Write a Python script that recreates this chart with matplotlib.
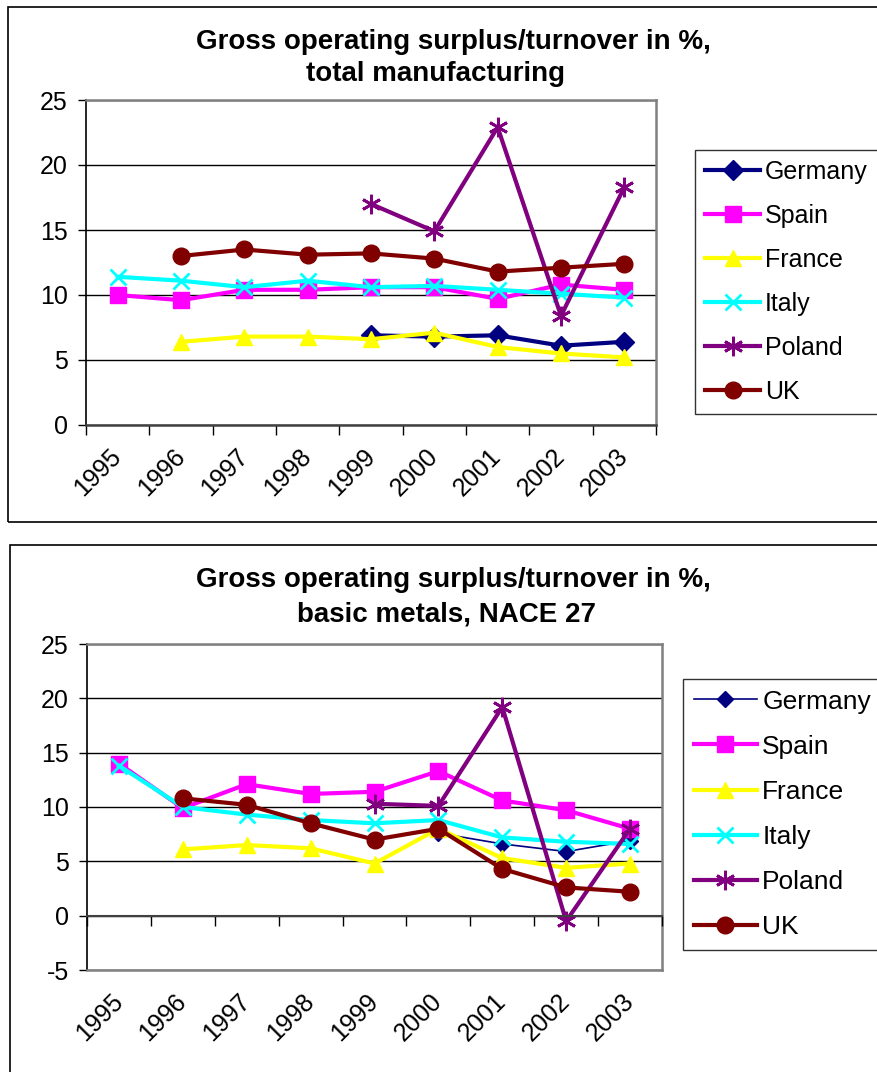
import numpy as np
import matplotlib.pyplot as plt
from matplotlib.patches import Rectangle
from matplotlib.ticker import MultipleLocator

plt.rcParams['font.family'] = ['Liberation Sans', 'DejaVu Sans']
plt.rcParams['axes.unicode_minus'] = False

nan = np.nan
years = ['1995', '1996', '1997', '1998', '1999', '2000', '2001', '2002', '2003']
countries = ['Germany', 'Spain', 'France', 'Italy', 'Poland', 'UK']

# total manufacturing
manuf_germany = [nan, nan, nan, nan, 6.9, 6.8, 6.9, 6.1, 6.4]
manuf_spain = [10.0, 9.6, 10.4, 10.4, 10.6, 10.6, 9.7, 10.8, 10.4]
manuf_france = [nan, 6.4, 6.8, 6.8, 6.6, 7.1, 6.0, 5.5, 5.2]
manuf_italy = [11.4, 11.1, 10.6, 11.1, 10.6, 10.7, 10.4, 10.1, 9.8]
manuf_poland = [nan, nan, nan, nan, 17.0, 14.9, 22.9, 8.4, 18.3]
manuf_uk = [nan, 13.0, 13.5, 13.1, 13.2, 12.8, 11.8, 12.1, 12.4]

# basic metals, NACE 27
metals_germany = [nan, nan, nan, nan, nan, 7.6, 6.6, 5.9, 6.9]
metals_spain = [14.0, 9.9, 12.1, 11.2, 11.4, 13.3, 10.6, 9.7, 8.0]
metals_france = [nan, 6.1, 6.5, 6.2, 4.8, 8.0, 5.3, 4.4, 4.8]
metals_italy = [13.8, 10.0, 9.3, 8.8, 8.5, 8.8, 7.2, 6.8, 6.6]
metals_poland = [nan, nan, nan, nan, 10.3, 10.1, 19.2, -0.5, 8.0]
metals_uk = [nan, 10.8, 10.2, 8.5, 7.0, 8.0, 4.3, 2.6, 2.2]

W, H = 877, 1072
def fx(px):
    return px / W
def fy(py):
    return 1 - py / H

colors = ['#000080', '#FF00FF', '#FFFF00', '#00FFFF', '#800080', '#800000']
markers = ['D', 's', '^', 'x', (6, 2, 0), 'o']
msizes = [10, 11, 12, 11, 14, 12]

fig = plt.figure(figsize=(W / 100, H / 100), dpi=100)

# chart frames
fig.patches.append(Rectangle((fx(8), fy(522)), fx(900) - fx(8), fy(7) - fy(522),
                             transform=fig.transFigure, fill=False, ec='black', lw=1.2))
fig.patches.append(Rectangle((fx(10), fy(1100)), fx(900) - fx(10), fy(545) - fy(1100),
                             transform=fig.transFigure, fill=False, ec='black', lw=1.2))


def draw_panel(ax, series, ymin, thin_first=False):
    x = np.arange(len(years))
    for i, (name, vals) in enumerate(zip(countries, series)):
        lw = 3
        ms = msizes[i]
        if thin_first and i == 0:
            lw = 1.2
            ms = 8
        mew = 2 if markers[i] in ('x', (6, 2, 0)) else 1
        ax.plot(x, vals, color=colors[i], lw=lw, marker=markers[i], ms=ms,
                mec=colors[i], mfc=colors[i], mew=mew, label=name)
    ax.set_xlim(-0.5, 8.5)
    ax.set_ylim(ymin, 25)
    ax.yaxis.set_major_locator(MultipleLocator(5))
    ax.grid(axis='y', color='black', lw=1)
    ax.set_axisbelow(True)
    ax.set_xticks(x)
    ax.set_xticklabels(years, rotation=45, ha='right', va='center', rotation_mode='anchor')
    ax.set_xticks(np.arange(-0.5, 9), minor=True)
    ax.tick_params(axis='x', which='major', length=0, pad=20, labelsize=18)
    ax.tick_params(axis='y', length=6, direction='out', labelsize=18, pad=7, width=1)
    for s in ('top', 'right'):
        ax.spines[s].set_color('#808080')
        ax.spines[s].set_linewidth(1.8)
    ax.spines['left'].set_color('black')
    ax.spines['left'].set_linewidth(1.2)
    ax.spines['bottom'].set_color('#808080')
    ax.spines['bottom'].set_linewidth(1.8)


# top panel
ax1 = fig.add_axes([fx(86), fy(425), fx(656) - fx(86), fy(100) - fy(425)])
draw_panel(ax1, [manuf_germany, manuf_spain, manuf_france, manuf_italy, manuf_poland, manuf_uk], 0)
ax1.spines['bottom'].set_color('#404040')
ax1.tick_params(axis='x', which='minor', length=7, direction='out', width=1)
leg1 = ax1.legend(loc='upper left', bbox_to_anchor=(fx(695), fy(150)), bbox_transform=fig.transFigure,
                  fontsize=18, frameon=True, fancybox=False, edgecolor='black', borderaxespad=0,
                  labelspacing=0.8, handlelength=2.2, handletextpad=0.2, borderpad=0.4, numpoints=1)
leg1.get_frame().set_linewidth(1.0)
fig.text(fx(453), fy(42), 'Gross operating surplus/turnover in %,', ha='center', va='center',
         fontsize=20, fontweight='bold')
fig.text(fx(435), fy(74), 'total manufacturing', ha='center', va='center',
         fontsize=20, fontweight='bold')

# bottom panel
ax2 = fig.add_axes([fx(87), fy(970), fx(662) - fx(87), fy(644) - fy(970)])
draw_panel(ax2, [metals_germany, metals_spain, metals_france, metals_italy, metals_poland, metals_uk],
           -5, thin_first=True)
ax2.tick_params(axis='x', which='minor', length=0)
zero_ax = ax2.twiny()
zero_ax.set_xlim(ax2.get_xlim())
zero_ax.set_xticks(np.arange(-0.5, 9))
zero_ax.set_xticklabels([])
zero_ax.xaxis.set_ticks_position('bottom')
zero_ax.spines['bottom'].set_position(('data', 0))
zero_ax.spines['bottom'].set_color('#404040')
zero_ax.spines['bottom'].set_linewidth(1.5)
for s in ('top', 'left', 'right'):
    zero_ax.spines[s].set_visible(False)
zero_ax.tick_params(axis='x', direction='out', length=7, width=1, labelbottom=False, labeltop=False)
zero_ax.patch.set_visible(False)
leg2 = ax2.legend(loc='upper left', bbox_to_anchor=(fx(683), fy(679)), bbox_transform=fig.transFigure,
                  fontsize=19, frameon=True, fancybox=False, edgecolor='black', borderaxespad=0,
                  labelspacing=0.8, handlelength=2.4, handletextpad=0.2, borderpad=0.4, numpoints=1)
leg2.get_frame().set_linewidth(1.0)
fig.text(fx(453), fy(580), 'Gross operating surplus/turnover in %,', ha='center', va='center',
         fontsize=20, fontweight='bold')
fig.text(fx(447), fy(614), 'basic metals, NACE 27', ha='center', va='center',
         fontsize=20, fontweight='bold')

fig.savefig('out.png', dpi=100)
